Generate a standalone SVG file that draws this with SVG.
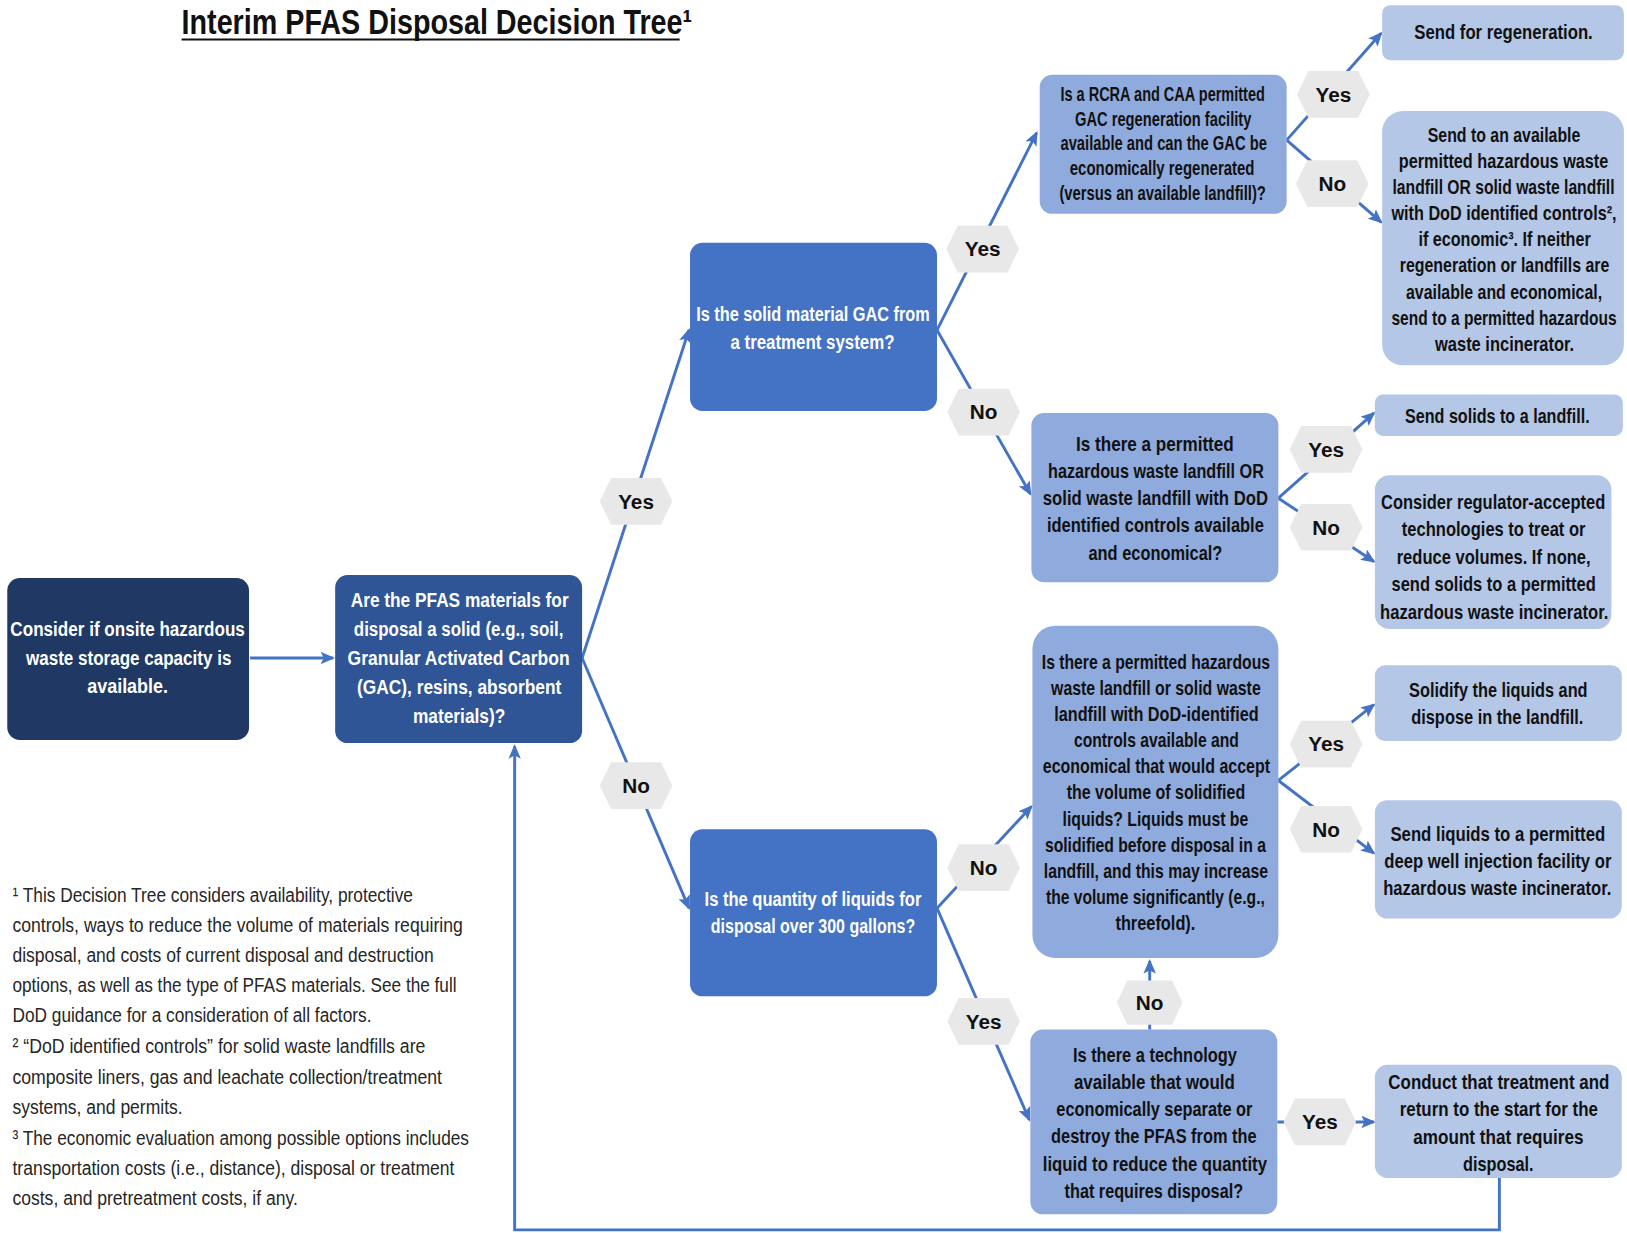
<svg xmlns="http://www.w3.org/2000/svg" width="1627" height="1233" viewBox="0 0 1627 1233">
<defs>
<style>
.t{font-family:"Liberation Sans Narrow","Liberation Sans",Arial,sans-serif;font-weight:bold;text-anchor:middle}
.w{fill:#ffffff;font-size:20px}
.d{fill:#111111;font-size:19.5px}
.h{fill:#111111;font-size:20px}
.fn{font-family:"Liberation Sans Narrow","Liberation Sans",Arial,sans-serif;font-size:20px;fill:#262626}
.c{fill:none;stroke:#4472c4;stroke-width:2.8}
.hex{fill:#e8e8e8}
</style>
<marker id="ah" viewBox="0 0 14 12" refX="12" refY="6" markerWidth="14" markerHeight="12" markerUnits="userSpaceOnUse" orient="auto">
<path d="M0,0 L14,6 L0,12 L3,6 Z" fill="#4472c4"/>
</marker>
<path id="hx" d="M-35,0 L-24,-22.5 L24,-22.5 L35,0 L24,22.5 L-24,22.5 Z"/>
</defs>
<rect x="0" y="0" width="1627" height="1233" fill="#ffffff"/>
<g transform="scale(1.03763,1.03788)">
<g id="title">
<text x="175" y="33" font-family="'Liberation Sans Narrow','Liberation Sans',Arial,sans-serif" font-weight="bold" font-size="33" fill="#111" textLength="492" lengthAdjust="spacingAndGlyphs">Interim PFAS Disposal Decision Tree¹</text>
<line x1="175" y1="38" x2="655" y2="38" stroke="#111" stroke-width="2"/>
</g>

<g id="connectors">
<path class="c" d="M241,634 L321,634" marker-end="url(#ah)"/>
<path class="c" d="M561,634 L664,318" marker-end="url(#ah)"/>
<path class="c" d="M561,634 L664,875" marker-end="url(#ah)"/>
<path class="c" d="M903,318 L999,128" marker-end="url(#ah)"/>
<path class="c" d="M903,318 L993,476" marker-end="url(#ah)"/>
<path class="c" d="M1240,135 L1331,32" marker-end="url(#ah)"/>
<path class="c" d="M1240,135 L1331,214" marker-end="url(#ah)"/>
<path class="c" d="M1232,480 L1324,398" marker-end="url(#ah)"/>
<path class="c" d="M1232,480 L1324,541" marker-end="url(#ah)"/>
<path class="c" d="M903,875 L994,777" marker-end="url(#ah)"/>
<path class="c" d="M903,875 L992,1079" marker-end="url(#ah)"/>
<path class="c" d="M1232,752 L1324,679" marker-end="url(#ah)"/>
<path class="c" d="M1232,752 L1324,822" marker-end="url(#ah)"/>
<path class="c" d="M1108,992 L1108,926" marker-end="url(#ah)"/>
<path class="c" d="M1231,1081 L1324,1081" marker-end="url(#ah)"/>
<path class="c" d="M1445,1135 L1445,1185 L496,1185 L496,719" marker-end="url(#ah)"/>
</g>

<g id="edge-labels">
<g id="lbl-yes-solid"><use href="#hx" class="hex" transform="translate(613,483)"/><text class="t h" x="613" y="490">Yes</text></g>
<g id="lbl-no-solid"><use href="#hx" class="hex" transform="translate(613,757)"/><text class="t h" x="613" y="764">No</text></g>
<g id="lbl-yes-gac"><use href="#hx" class="hex" transform="translate(947,240)"/><text class="t h" x="947" y="247">Yes</text></g>
<g id="lbl-no-gac"><use href="#hx" class="hex" transform="translate(948,397)"/><text class="t h" x="948" y="404">No</text></g>
<g id="lbl-yes-regen"><use href="#hx" class="hex" transform="translate(1285,91)"/><text class="t h" x="1285" y="98">Yes</text></g>
<g id="lbl-no-regen"><use href="#hx" class="hex" transform="translate(1284,177)"/><text class="t h" x="1284" y="184">No</text></g>
<g id="lbl-yes-sl"><use href="#hx" class="hex" transform="translate(1278,433)"/><text class="t h" x="1278" y="440">Yes</text></g>
<g id="lbl-no-sl"><use href="#hx" class="hex" transform="translate(1278,508)"/><text class="t h" x="1278" y="515">No</text></g>
<g id="lbl-yes-ll"><use href="#hx" class="hex" transform="translate(1278,717)"/><text class="t h" x="1278" y="724">Yes</text></g>
<g id="lbl-no-ll"><use href="#hx" class="hex" transform="translate(1278,799)"/><text class="t h" x="1278" y="806">No</text></g>
<g id="lbl-no-qty"><use href="#hx" class="hex" transform="translate(948,836)"/><text class="t h" x="948" y="843">No</text></g>
<g id="lbl-yes-qty"><use href="#hx" class="hex" transform="translate(948,984)"/><text class="t h" x="948" y="991">Yes</text></g>
<g id="lbl-no-tech"><use href="#hx" class="hex" transform="translate(1108,966) scale(0.9,0.95)"/><text class="t h" x="1108" y="973">No</text></g>
<g id="lbl-yes-tech"><use href="#hx" class="hex" transform="translate(1272,1081)"/><text class="t h" x="1272" y="1088">Yes</text></g>
</g>

<g id="n-start">
<rect x="7" y="557" width="233" height="156" rx="12" fill="#203864"/>
<text class="t w" x="123" y="613" textLength="226" lengthAdjust="spacingAndGlyphs">Consider if onsite hazardous</text>
<text class="t w" x="124" y="641" textLength="198" lengthAdjust="spacingAndGlyphs">waste storage capacity is</text>
<text class="t w" x="123" y="668" textLength="78" lengthAdjust="spacingAndGlyphs">available.</text>
</g>

<g id="n-solid">
<rect x="323" y="554" width="238" height="162" rx="12" fill="#2f5597"/>
<text class="t w" x="443" y="585" textLength="210" lengthAdjust="spacingAndGlyphs">Are the PFAS materials for</text>
<text class="t w" x="442" y="613" textLength="202" lengthAdjust="spacingAndGlyphs">disposal a solid (e.g., soil,</text>
<text class="t w" x="442" y="641" textLength="214" lengthAdjust="spacingAndGlyphs">Granular Activated Carbon</text>
<text class="t w" x="442.5" y="669" textLength="197" lengthAdjust="spacingAndGlyphs">(GAC), resins, absorbent</text>
<text class="t w" x="442.5" y="697" textLength="89" lengthAdjust="spacingAndGlyphs">materials)?</text>
</g>

<g id="n-gac">
<rect x="665" y="234" width="238" height="162" rx="12" fill="#4472c4"/>
<text class="t w" x="783.5" y="309" textLength="225" lengthAdjust="spacingAndGlyphs">Is the solid material GAC from</text>
<text class="t w" x="783" y="336" textLength="158" lengthAdjust="spacingAndGlyphs">a treatment system?</text>
</g>

<g id="n-quantity">
<rect x="665" y="799" width="238" height="161" rx="12" fill="#4472c4"/>
<text class="t w" x="783.5" y="873" textLength="209" lengthAdjust="spacingAndGlyphs">Is the quantity of liquids for</text>
<text class="t w" x="783.5" y="899" textLength="197" lengthAdjust="spacingAndGlyphs">disposal over 300 gallons?</text>
</g>

<g id="n-regen-q">
<rect x="1002" y="72" width="238" height="134" rx="12" fill="#8faadc"/>
<text class="t d" x="1120.5" y="97" font-size="18.5" textLength="197" lengthAdjust="spacingAndGlyphs">Is a RCRA  and CAA permitted</text>
<text class="t d" x="1121" y="121" font-size="18.5" textLength="170" lengthAdjust="spacingAndGlyphs">GAC regeneration facility</text>
<text class="t d" x="1121.5" y="145" font-size="18.5" textLength="199" lengthAdjust="spacingAndGlyphs">available and can the GAC be</text>
<text class="t d" x="1120" y="169" font-size="18.5" textLength="178" lengthAdjust="spacingAndGlyphs">economically regenerated</text>
<text class="t d" x="1120.5" y="193" font-size="18.5" textLength="199" lengthAdjust="spacingAndGlyphs">(versus an available landfill)?</text>
</g>

<g id="n-solid-landfill-q">
<rect x="994" y="398" width="238" height="163" rx="12" fill="#8faadc"/>
<text class="t d" x="1113" y="435" textLength="152" lengthAdjust="spacingAndGlyphs">Is there a permitted</text>
<text class="t d" x="1114" y="461" textLength="208" lengthAdjust="spacingAndGlyphs">hazardous waste landfill OR</text>
<text class="t d" x="1113.5" y="487" textLength="217" lengthAdjust="spacingAndGlyphs">solid waste landfill with DoD</text>
<text class="t d" x="1113.5" y="513" textLength="209" lengthAdjust="spacingAndGlyphs">identified controls available</text>
<text class="t d" x="1113.5" y="540" textLength="129" lengthAdjust="spacingAndGlyphs">and economical?</text>
</g>

<g id="n-liquid-landfill-q">
<rect x="995" y="603" width="237" height="320" rx="22" fill="#8faadc"/>
<text class="t d" x="1114" y="645" font-size="19" textLength="220" lengthAdjust="spacingAndGlyphs">Is there a permitted hazardous</text>
<text class="t d" x="1114" y="670" font-size="19" textLength="202" lengthAdjust="spacingAndGlyphs">waste landfill or solid waste</text>
<text class="t d" x="1114.5" y="695" font-size="19" textLength="197" lengthAdjust="spacingAndGlyphs">landfill with DoD-identified</text>
<text class="t d" x="1114.5" y="720" font-size="19" textLength="159" lengthAdjust="spacingAndGlyphs">controls available and</text>
<text class="t d" x="1114.5" y="745" font-size="19" textLength="219" lengthAdjust="spacingAndGlyphs">economical that would accept</text>
<text class="t d" x="1114" y="770" font-size="19" textLength="172" lengthAdjust="spacingAndGlyphs">the volume of solidified</text>
<text class="t d" x="1113.5" y="796" font-size="19" textLength="179" lengthAdjust="spacingAndGlyphs">liquids?  Liquids must be</text>
<text class="t d" x="1113.5" y="821" font-size="19" textLength="213" lengthAdjust="spacingAndGlyphs">solidified before disposal in a</text>
<text class="t d" x="1114" y="846" font-size="19" textLength="216" lengthAdjust="spacingAndGlyphs">landfill, and this may increase</text>
<text class="t d" x="1113.5" y="871" font-size="19" textLength="211" lengthAdjust="spacingAndGlyphs">the volume significantly (e.g.,</text>
<text class="t d" x="1113.5" y="896" font-size="19" textLength="77" lengthAdjust="spacingAndGlyphs">threefold).</text>
</g>

<g id="n-tech-q">
<rect x="993" y="992" width="238" height="178" rx="12" fill="#8faadc"/>
<text class="t d" x="1113" y="1023" textLength="158" lengthAdjust="spacingAndGlyphs">Is there a technology</text>
<text class="t d" x="1112.5" y="1049" textLength="155" lengthAdjust="spacingAndGlyphs">available that would</text>
<text class="t d" x="1112.5" y="1075" textLength="189" lengthAdjust="spacingAndGlyphs">economically separate or</text>
<text class="t d" x="1112" y="1101" textLength="198" lengthAdjust="spacingAndGlyphs">destroy the PFAS from the</text>
<text class="t d" x="1113" y="1128" textLength="216" lengthAdjust="spacingAndGlyphs">liquid to reduce the quantity</text>
<text class="t d" x="1112" y="1154" textLength="172" lengthAdjust="spacingAndGlyphs">that requires disposal?</text>
</g>

<g id="n-send-regen">
<rect x="1332" y="5" width="233" height="53" rx="8" fill="#b4c7e7"/>
<text class="t d" x="1449" y="38" textLength="172" lengthAdjust="spacingAndGlyphs">Send for regeneration.</text>
</g>

<g id="n-send-landfill-gac">
<rect x="1332" y="107" width="233" height="245" rx="20" fill="#b4c7e7"/>
<text class="t d" x="1449.5" y="137" textLength="147" lengthAdjust="spacingAndGlyphs">Send to an available</text>
<text class="t d" x="1449" y="162" textLength="202" lengthAdjust="spacingAndGlyphs">permitted hazardous waste</text>
<text class="t d" x="1449" y="187" textLength="214" lengthAdjust="spacingAndGlyphs">landfill OR solid waste landfill</text>
<text class="t d" x="1449.5" y="212" textLength="217" lengthAdjust="spacingAndGlyphs">with DoD identified controls²,</text>
<text class="t d" x="1450" y="237" textLength="166" lengthAdjust="spacingAndGlyphs">if economic³. If neither</text>
<text class="t d" x="1450" y="262" textLength="202" lengthAdjust="spacingAndGlyphs">regeneration or landfills are</text>
<text class="t d" x="1449.5" y="288" textLength="189" lengthAdjust="spacingAndGlyphs">available and economical,</text>
<text class="t d" x="1449.5" y="313" textLength="217" lengthAdjust="spacingAndGlyphs">send to a permitted hazardous</text>
<text class="t d" x="1450" y="338" textLength="134" lengthAdjust="spacingAndGlyphs">waste incinerator.</text>
</g>

<g id="n-send-solids-landfill">
<rect x="1325" y="380" width="239" height="40" rx="8" fill="#b4c7e7"/>
<text class="t d" x="1443" y="408" textLength="178" lengthAdjust="spacingAndGlyphs">Send solids to a landfill.</text>
</g>

<g id="n-consider-tech">
<rect x="1325" y="458" width="228" height="148" rx="14" fill="#b4c7e7"/>
<text class="t d" x="1439" y="490" textLength="216" lengthAdjust="spacingAndGlyphs">Consider regulator-accepted</text>
<text class="t d" x="1439.5" y="516" textLength="177" lengthAdjust="spacingAndGlyphs">technologies to treat or</text>
<text class="t d" x="1439.5" y="543" textLength="187" lengthAdjust="spacingAndGlyphs">reduce volumes. If none,</text>
<text class="t d" x="1439.5" y="569" textLength="197" lengthAdjust="spacingAndGlyphs">send solids to a permitted</text>
<text class="t d" x="1440" y="596" textLength="220" lengthAdjust="spacingAndGlyphs">hazardous waste incinerator.</text>
</g>

<g id="n-solidify">
<rect x="1325" y="641" width="238" height="73" rx="10" fill="#b4c7e7"/>
<text class="t d" x="1444" y="672" textLength="172" lengthAdjust="spacingAndGlyphs">Solidify the liquids and</text>
<text class="t d" x="1443" y="698" textLength="166" lengthAdjust="spacingAndGlyphs">dispose in the landfill.</text>
</g>

<g id="n-send-liquids">
<rect x="1325" y="771" width="238" height="114" rx="12" fill="#b4c7e7"/>
<text class="t d" x="1443.5" y="810" textLength="207" lengthAdjust="spacingAndGlyphs">Send liquids to a permitted</text>
<text class="t d" x="1443.5" y="836" textLength="219" lengthAdjust="spacingAndGlyphs">deep well injection facility or</text>
<text class="t d" x="1443" y="862" textLength="220" lengthAdjust="spacingAndGlyphs">hazardous waste incinerator.</text>
</g>

<g id="n-conduct">
<rect x="1325" y="1026" width="238" height="109" rx="12" fill="#b4c7e7"/>
<text class="t d" x="1444.5" y="1049" textLength="213" lengthAdjust="spacingAndGlyphs">Conduct that treatment and</text>
<text class="t d" x="1444.5" y="1075" textLength="191" lengthAdjust="spacingAndGlyphs">return to the start for the</text>
<text class="t d" x="1444" y="1102" textLength="164" lengthAdjust="spacingAndGlyphs">amount that requires</text>
<text class="t d" x="1444" y="1128" textLength="68" lengthAdjust="spacingAndGlyphs">disposal.</text>
</g>

<g id="footnotes">
<text class="fn" x="12" y="869" textLength="386" lengthAdjust="spacingAndGlyphs">¹ This Decision Tree considers availability, protective</text>
<text class="fn" x="12" y="898" textLength="434" lengthAdjust="spacingAndGlyphs">controls, ways to reduce the volume of materials requiring</text>
<text class="fn" x="12" y="927" textLength="406" lengthAdjust="spacingAndGlyphs">disposal, and  costs of current disposal and destruction</text>
<text class="fn" x="12" y="956" textLength="428" lengthAdjust="spacingAndGlyphs">options, as well as the type of PFAS materials.  See the full</text>
<text class="fn" x="12" y="985" textLength="346" lengthAdjust="spacingAndGlyphs">DoD guidance for a consideration of all factors.</text>
<text class="fn" x="12" y="1015" textLength="398" lengthAdjust="spacingAndGlyphs">² “DoD identified controls” for solid waste landfills are</text>
<text class="fn" x="12" y="1044" textLength="414" lengthAdjust="spacingAndGlyphs">composite liners, gas and leachate collection/treatment</text>
<text class="fn" x="12" y="1073" textLength="164" lengthAdjust="spacingAndGlyphs">systems, and permits.</text>
<text class="fn" x="12" y="1103" textLength="440" lengthAdjust="spacingAndGlyphs">³ The economic evaluation among possible options includes</text>
<text class="fn" x="12" y="1132" textLength="426" lengthAdjust="spacingAndGlyphs">transportation costs (i.e., distance), disposal or treatment</text>
<text class="fn" x="12" y="1161" textLength="275" lengthAdjust="spacingAndGlyphs">costs, and pretreatment costs, if any.</text>
</g>
</g>
</svg>
